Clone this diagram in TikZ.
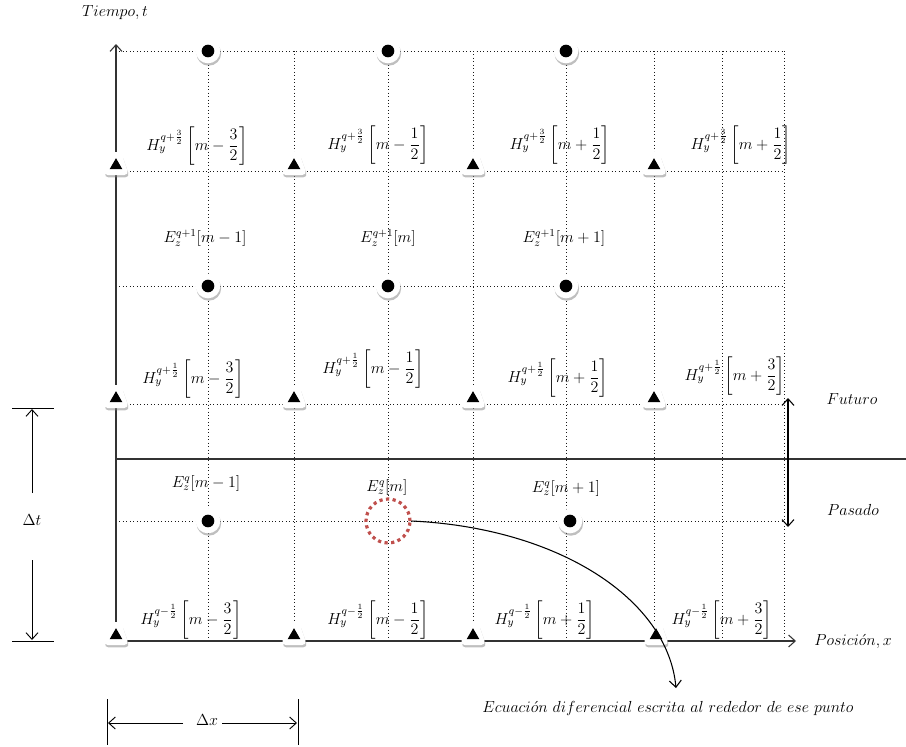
\documentclass[tikz,border=0pt]{standalone}
\usepackage{amsmath}
\usetikzlibrary{arrows.meta,shapes.geometric,shadows}
\definecolor{redot}{RGB}{192,80,77}
\begin{document}
\begin{tikzpicture}[x=0.75pt,y=-0.75pt,
  grid/.style={dotted, line width=0.6pt, black!90},
  axisline/.style={line width=0.8pt, black!80},
  tip/.style={-{Straight Barb[length=5pt,width=9pt]}},
  lab/.style={font=\fontsize{11.5}{13}\selectfont, inner sep=0pt},
  shad/.style={drop shadow={shadow xshift=0.6pt, shadow yshift=-1.8pt, fill=black!50, opacity=0.5}},
  halo/.style={circle, fill=white, minimum size=18.5pt, inner sep=0pt, shad},
  edot/.style={circle, fill=black, minimum size=9.5pt, inner sep=0pt},
  thalo/.style={fill=white, rounded corners=3.5pt, shad},
  htri/.style={regular polygon, regular polygon sides=3, fill=black, minimum size=11pt, inner sep=0pt},
]
\useasboundingbox (0,0) rectangle (906,746);
% dotted grid
\foreach \yy in {51,171,286,404,521} \draw[grid] (116,\yy) -- (784,\yy);
\foreach \xx in {208,294,388,473,566,654,722,784} \draw[grid] (\xx,51) -- (\xx,641);
% solid lines
\draw[axisline] (116,459) -- (906,459);
\coordinate (org) at (116,641);
\coordinate (ttop) at (116,44);
\coordinate (xend) at (796,641);
\draw[axisline,tip] (org) -- (ttop);
\draw[axisline,tip] (org) -- (xend);
% E markers
\foreach \nm/\xx/\yy in {e1/208/51,e2/388/51,e3/566/51,e4/208/286,e5/388/286,e6/566/286,e7/208/521,e8/570/521}{
  \node[halo] (\nm h) at (\xx,\yy) {};
  \node[edot] (\nm) at (\xx,\yy) {};
}
% H markers
\foreach \nm/\xx/\yy in {h1/116/171,h2/294/171,h3/473/171,h4/654/171,h5/116/404,h6/294/404,h7/473/404,h8/654/404,h9/116/641,h10/294/641,h11/473/641,h12/656/641}{
  \fill[thalo] (\xx-13,\yy+4) -- (\xx+13,\yy+4) -- (\xx+5,\yy-19) -- (\xx-5,\yy-19) -- cycle;
  \node[htri] (\nm) at (\xx,\yy-5.5) {};
}
% red dotted circle
\node[circle, draw=redot, line width=2.4pt, dash pattern=on 2.4pt off 2.6pt, minimum size=33pt, inner sep=0pt] (ec) at (388,521) {};
% labels
\node[lab] (l1) at (197,146) {$H_y^{q+\frac{3}{2}}\left[m-\dfrac{3}{2}\right]$};
\node[lab] (l2) at (378,145) {$H_y^{q+\frac{3}{2}}\left[m-\dfrac{1}{2}\right]$};
\node[lab] (l3) at (560,145) {$H_y^{q+\frac{3}{2}}\left[m+\dfrac{1}{2}\right]$};
\node[lab] (l4) at (741,145) {$H_y^{q+\frac{3}{2}}\left[m+\dfrac{1}{2}\right]$};
\node[lab] (l5) at (205,238) {$E_z^{q+1}[m-1]$};
\node[lab] (l6) at (388,238) {$E_z^{q+1}[m]$};
\node[lab] (l7) at (564,238) {$E_z^{q+1}[m+1]$};
\node[lab] (l8) at (193,379) {$H_y^{q+\frac{1}{2}}\left[m-\dfrac{3}{2}\right]$};
\node[lab] (l9) at (373,369) {$H_y^{q+\frac{1}{2}}\left[m-\dfrac{1}{2}\right]$};
\node[lab] (l10) at (558,378) {$H_y^{q+\frac{1}{2}}\left[m+\dfrac{1}{2}\right]$};
\node[lab] (l11) at (735,376) {$H_y^{q+\frac{1}{2}}\left[m+\dfrac{3}{2}\right]$};
\node[lab] (l12) at (206,483) {$E_z^{q}[m-1]$};
\node[lab] (l13) at (387,487) {$E_z^{q}[m]$};
\node[lab] (l14) at (566,488) {$E_z^{q}[m+1]$};
\node[lab] (l15) at (191,620) {$H_y^{q-\frac{1}{2}}\left[m-\dfrac{3}{2}\right]$};
\node[lab] (l16) at (378,620) {$H_y^{q-\frac{1}{2}}\left[m-\dfrac{1}{2}\right]$};
\node[lab] (l17) at (545,620) {$H_y^{q-\frac{1}{2}}\left[m+\dfrac{1}{2}\right]$};
\node[lab] (l18) at (722,620) {$H_y^{q-\frac{1}{2}}\left[m+\dfrac{3}{2}\right]$};
% axis texts
\node[lab] (tt) at (115,13) {$Tiempo, t$};
\node[lab] (px) at (853,641) {$Posici\acute{o}n, x$};
\node[lab] (fu) at (852,399) {$Futuro$};
\node[lab] (pa) at (853,510) {$Pasado$};
% future/past arrow
\coordinate (fa) at (788,398);
\coordinate (pb) at (788,527);
\draw[line width=0.8pt, {Straight Barb[length=5pt,width=9pt]}-{Straight Barb[length=5pt,width=9pt]}] (fa) -- (pb);
% delta t
\draw[line width=0.7pt] (12,408) -- (54,408);
\draw[line width=0.7pt] (12,641) -- (54,641);
\node[lab] (dt) at (32,520) {$\Delta t$};
\coordinate (dt1) at (32,493);
\coordinate (dt2) at (32,409);
\coordinate (dt3) at (32,560);
\coordinate (dt4) at (32,640);
\draw[line width=0.7pt,tip] (dt1) -- (dt2);
\draw[line width=0.7pt,tip] (dt3) -- (dt4);
% delta x
\draw[line width=0.7pt] (107,699) -- (107,745);
\draw[line width=0.7pt] (298,699) -- (298,745);
\node[lab] (dx) at (207,720) {$\Delta x$};
\coordinate (dx1) at (183,723);
\coordinate (dx2) at (108,723);
\coordinate (dx3) at (222,723);
\coordinate (dx4) at (297,723);
\draw[line width=0.7pt,tip] (dx1) -- (dx2);
\draw[line width=0.7pt,tip] (dx3) -- (dx4);
% caption and curve
\node[lab] (cap) at (668,708) {$Ecuaci\acute{o}n\ diferencial\ escrita\ al\ rededor\ de\ ese\ punto$};
\coordinate (cend) at (676,688);
\draw[line width=0.8pt,tip] (ec.east) .. controls (560,528) and (668,600) .. (cend);
\end{tikzpicture}
\end{document}
